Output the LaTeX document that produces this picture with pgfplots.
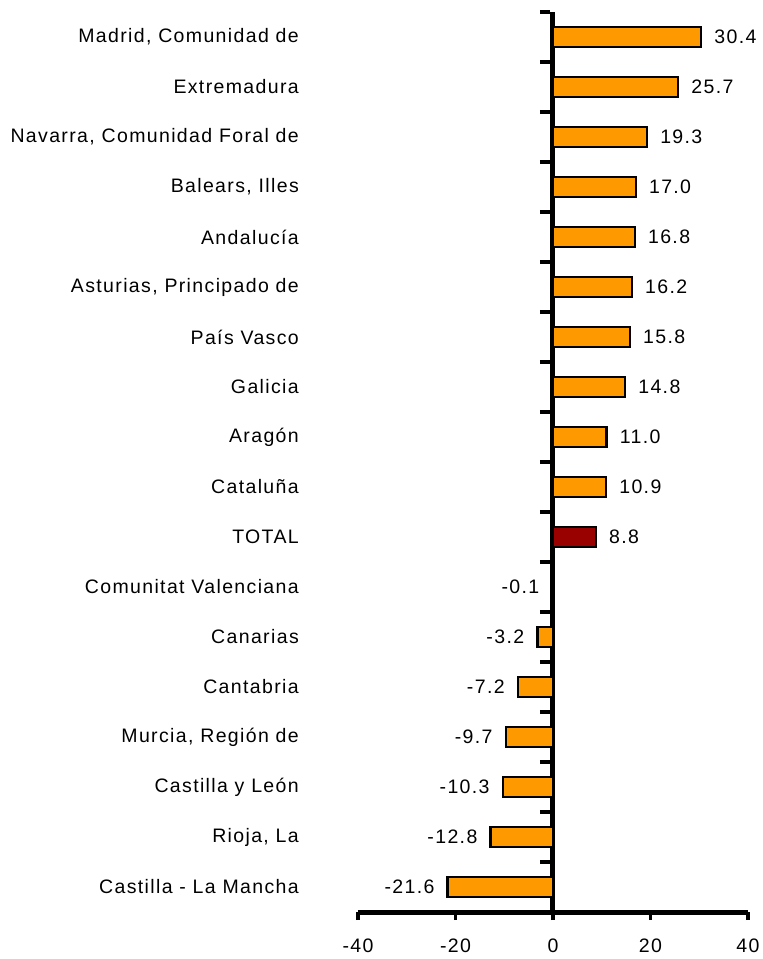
\documentclass[border=0pt]{standalone}
\usepackage{pgfplots}
\pgfplotsset{compat=1.18}
\usepackage{fontspec}
\setmainfont{Liberation Sans}[LetterSpace=7]
\definecolor{barorange}{RGB}{255,153,0}
\definecolor{bartotal}{RGB}{153,0,0}
\begin{document}
\fontsize{19.5}{23}\selectfont
\begin{tikzpicture}
\begin{axis}[
  name=ax,
  scale only axis, width=390pt, height=900pt,
  xmin=-40, xmax=40, ymin=-0.5, ymax=17.5,
  axis x line*=bottom, axis y line*=middle,
  every outer x axis line/.append style={line width=5pt, black},
  every inner y axis line/.append style={line width=5pt, black},
  xtick={-40,-20,0,20,40},
  tick align=center,
  major tick length=8pt,
  minor tick length=10pt,
  tick style={line width=3.5pt, black},
  every major tick/.append style={line width=3.5pt, black},
  every minor tick/.append style={line width=3.5pt, black},
  every major x tick/.append style={line width=3.5pt, black, yshift=-4pt},
  every major y tick/.append style={draw=none},
  every minor y tick/.append style={line width=3.5pt, black, xshift=-3pt},
  ytick={0,...,17},
  minor ytick={-0.5,0.5,...,17.5},
  yticklabels={{Castilla - La Mancha},{Rioja, La},{Castilla y León},{Murcia, Región de},{Cantabria},{Canarias},{Comunitat Valenciana},{TOTAL},{Cataluña},{Aragón},{Galicia},{País Vasco},{Asturias, Principado de},{Andalucía},{Balears, Illes},{Navarra, Comunidad Foral de},{Extremadura},{Madrid, Comunidad de}},
  tick label style={font=\fontsize{19.5}{23}\selectfont},
  /pgf/number format/assume math mode=true,
  xticklabel style={yshift=-16pt},
  yticklabel style={anchor=east, inner sep=0pt, xshift=-246pt},
  xbar, bar width=20pt, bar shift=0pt,
  point meta=x,
  clip=false,
  every node near coord/.append style={font=\fontsize{19.5}{23}\selectfont, inner sep=0pt, text=black,
    /pgf/number format/fixed, /pgf/number format/fixed zerofill, /pgf/number format/precision=1},
]
\addplot[fill=barorange, draw=black, line width=2.4pt,
  nodes near coords, every node near coord/.append style={anchor=west, xshift=12pt}]
  table {
x y
30.4 17
25.7 16
19.3 15
17.0 14
16.8 13
16.2 12
15.8 11
14.8 10
11.0 9
10.9 8
};
\addplot[fill=bartotal, draw=black, line width=2.4pt,
  nodes near coords, every node near coord/.append style={anchor=west, xshift=12pt}]
  table {
x y
8.8 7
};
\addplot[fill=barorange, draw=black, line width=2.4pt,
  nodes near coords, every node near coord/.append style={anchor=east, xshift=-12pt}]
  table {
x y
-0.1 6
-3.2 5
-7.2 4
-9.7 3
-10.3 2
-12.8 1
-21.6 0
};
\end{axis}
\pgfresetboundingbox
\path (ax.south west) ++(-358pt,-47pt) rectangle ++(763pt,959pt);
\end{tikzpicture}
\end{document}
